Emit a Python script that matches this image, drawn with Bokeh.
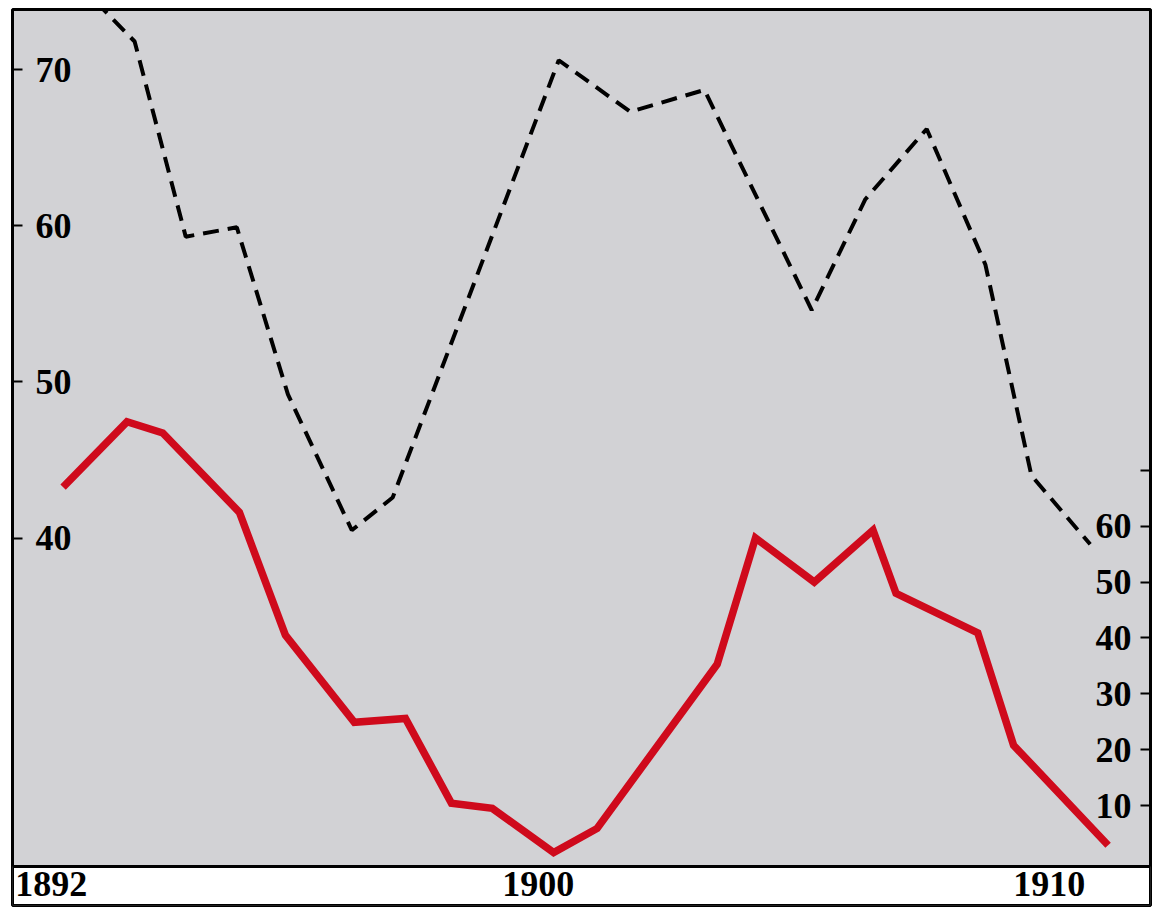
from bokeh.plotting import figure
from bokeh.models import Range1d, LinearAxis, FixedTicker, BoxAnnotation
from bokeh.embed import file_html
from bokeh.resources import INLINE

# ---- data ----
dash_years = [1891.0, 1892.1, 1893.1, 1894.1, 1895.1, 1896.35, 1897.15, 1900.4,
              1901.8, 1903.25, 1905.35, 1906.4, 1907.6, 1908.75, 1909.65, 1910.8]
dash_values = [75.5, 71.8, 59.3, 59.9, 49.2, 40.5, 42.6, 70.6,
               67.3, 68.7, 54.6, 61.7, 66.2, 57.5, 44.0, 39.6]

red_years = [1890.7, 1891.95, 1892.65, 1894.15, 1895.05, 1896.4, 1897.4, 1898.3,
             1899.1, 1900.3, 1901.15, 1903.5, 1904.25, 1905.4, 1906.55, 1907.0,
             1908.6, 1909.3, 1911.15]
red_values = [67.0, 78.7, 76.7, 62.5, 40.5, 24.9, 25.6, 10.4,
              9.5, 1.6, 5.9, 35.3, 57.9, 50.0, 59.3, 48.0,
              40.9, 20.8, 2.9]

left_ticks = [40, 50, 60, 70]
right_ticks = [10, 20, 30, 40, 50, 60, 70]
right_labels = {70: ""}
x_tick_years = [1890.47, 1900, 1910]
x_tick_labels = {1890.47: "1892", 1900: "1900", 1910: "1910"}

FONT = "Liberation Serif"
FS = "36px"

p = figure(width=1156, height=909,
           x_range=Range1d(1889.71, 1911.98),
           y_range=Range1d(16.47, 73.85),
           output_backend="svg", toolbar_location=None,
           min_border_left=12, min_border_right=6,
           min_border_top=9, min_border_bottom=4)
p.extra_y_ranges = {"right": Range1d(-7.89, 152.5)}

p.background_fill_color = "#d2d2d5"
p.border_fill_color = "white"
p.outline_line_color = "black"
p.outline_line_width = 3
p.grid.visible = False

# white strip holding the year labels
strip = BoxAnnotation(top=18.97, fill_color="white", fill_alpha=1.0,
                      line_color="black", line_alpha=1.0, line_width=3,
                      level="underlay")
p.add_layout(strip)

# left axis
ya = p.yaxis[0]
ya.ticker = FixedTicker(ticks=left_ticks)
ya.axis_line_color = None
ya.major_tick_in = 10
ya.major_tick_out = 0
ya.major_tick_line_width = 2
ya.minor_tick_line_color = None
ya.major_label_standoff = -59
ya.major_label_text_font = FONT
ya.major_label_text_font_size = FS
ya.major_label_text_font_style = "bold"
ya.major_label_text_color = "black"

# right axis
ra = LinearAxis(y_range_name="right", ticker=FixedTicker(ticks=right_ticks),
                major_label_overrides=right_labels)
ra.axis_line_color = None
ra.major_tick_in = 10
ra.major_tick_out = 0
ra.major_tick_line_width = 2
ra.minor_tick_line_color = None
ra.major_label_standoff = -55
ra.major_label_text_font = FONT
ra.major_label_text_font_size = FS
ra.major_label_text_font_style = "bold"
ra.major_label_text_color = "black"
p.add_layout(ra, "right")

# bottom axis
xa = p.xaxis[0]
xa.ticker = FixedTicker(ticks=x_tick_years)
xa.major_label_overrides = x_tick_labels
xa.axis_line_color = None
xa.major_tick_line_color = None
xa.minor_tick_line_color = None
xa.major_tick_in = 0
xa.major_tick_out = 0
xa.major_label_standoff = -34
xa.major_label_text_font = FONT
xa.major_label_text_font_size = FS
xa.major_label_text_font_style = "bold"
xa.major_label_text_color = "black"

# series
p.line(dash_years, dash_values, line_color="black", line_width=4,
       line_dash="16 9")
p.line(red_years, red_values, y_range_name="right", line_color="#cf0a1c",
       line_width=7.5, line_join="miter")

open("out.html", "w").write(file_html(p, INLINE))
